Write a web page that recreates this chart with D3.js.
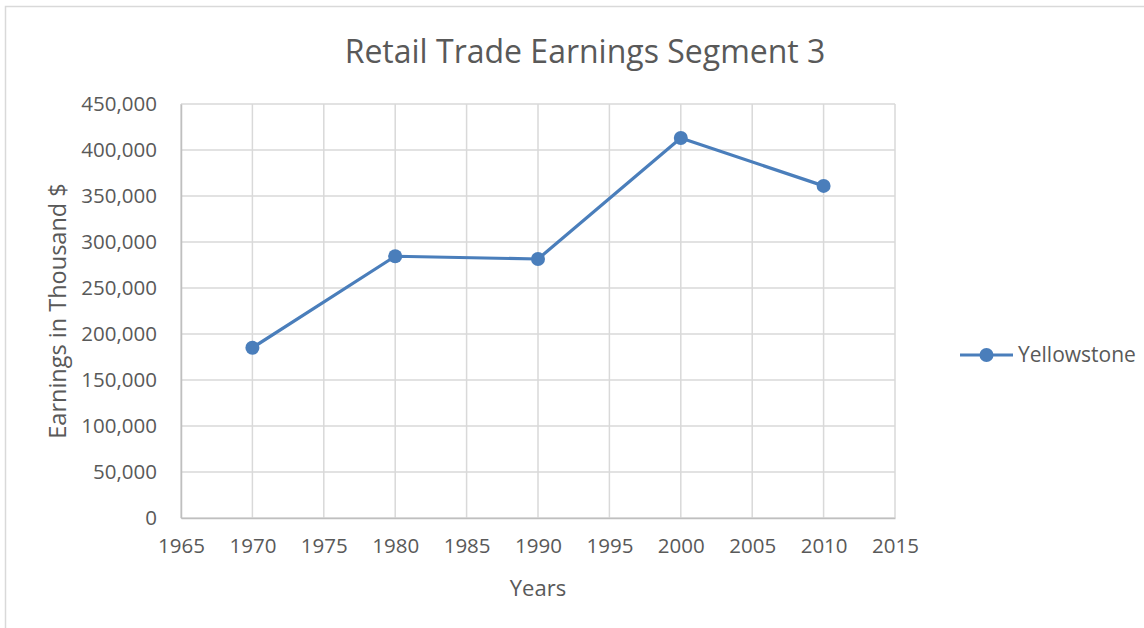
<!DOCTYPE html>
<html>
<head>
<meta charset="utf-8">
<script src="https://cdn.jsdelivr.net/npm/d3@7"></script>
<style>
  body { margin: 0; background: #fff; }
  svg { font-family: "Open Sans", sans-serif; }
  .tick text { fill: #595959; font-family: "Open Sans", sans-serif; }
</style>
</head>
<body>
<div id="chart"></div>
<script>
// data
var years = [1970, 1980, 1990, 2000, 2010];
var earnings = [185000, 284500, 281500, 413000, 361000];
var seriesName = "Yellowstone";
var xTicks = [1965, 1970, 1975, 1980, 1985, 1990, 1995, 2000, 2005, 2010, 2015];
var yTicks = [0, 50000, 100000, 150000, 200000, 250000, 300000, 350000, 400000, 450000];

var svgWidth = 1144;
var svgHeight = 628;

var margin = { top: 104, left: 181 };
var width = 895 - 181;
var height = 518 - 104;

var svg = d3.select("#chart")
  .append("svg")
  .attr("width", svgWidth)
  .attr("height", svgHeight);

// outer chart frame (partly off the page)
svg.append("rect")
  .attr("x", 5.5).attr("y", 6.5)
  .attr("width", 1200).attr("height", 700)
  .attr("fill", "none")
  .attr("stroke", "#d9d9d9")
  .attr("stroke-width", 1.5);

var chartGroup = svg.append("g")
  .attr("transform", `translate(${margin.left}, ${margin.top})`);

var xScale = d3.scaleLinear().domain([1965, 2015]).range([0, width]);
var yScale = d3.scaleLinear().domain([0, 450000]).range([height, 0]);

// gridlines
chartGroup.append("g")
  .selectAll("line")
  .data(yTicks)
  .enter()
  .append("line")
  .attr("x1", 0).attr("x2", width)
  .attr("y1", d => yScale(d)).attr("y2", d => yScale(d))
  .attr("stroke", "#d9d9d9")
  .attr("stroke-width", 1.5);

chartGroup.append("g")
  .selectAll("line")
  .data(xTicks)
  .enter()
  .append("line")
  .attr("x1", d => xScale(d)).attr("x2", d => xScale(d))
  .attr("y1", 0).attr("y2", height)
  .attr("stroke", "#d9d9d9")
  .attr("stroke-width", 1.5);

// axes
var bottomAxis = d3.axisBottom(xScale).tickValues(xTicks).tickFormat(d3.format("d")).tickSize(0).tickPadding(20);
var leftAxis = d3.axisLeft(yScale).tickValues(yTicks).tickFormat(d3.format(",")).tickSize(0).tickPadding(24);

var xAxisG = chartGroup.append("g")
  .attr("transform", `translate(0, ${height})`)
  .call(bottomAxis);
xAxisG.attr("font-family", "Open Sans").attr("font-size", 20.5);
xAxisG.select(".domain").attr("stroke", "#bfbfbf").attr("stroke-width", 1.5);

var yAxisG = chartGroup.append("g").call(leftAxis);
yAxisG.attr("font-family", "Open Sans").attr("font-size", 20.5);
yAxisG.select(".domain").attr("stroke", "#bfbfbf").attr("stroke-width", 1.5);

// line + markers
var line = d3.line()
  .x((d, i) => xScale(years[i]))
  .y(d => yScale(d));

chartGroup.append("path")
  .datum(earnings)
  .attr("d", line)
  .attr("fill", "none")
  .attr("stroke", "#4a7ebb")
  .attr("stroke-width", 3.2)
  .attr("stroke-linejoin", "round");

chartGroup.selectAll("circle")
  .data(earnings)
  .enter()
  .append("circle")
  .attr("cx", (d, i) => xScale(years[i]))
  .attr("cy", d => yScale(d))
  .attr("r", 7)
  .attr("fill", "#4a7ebb");

// title
svg.append("text")
  .attr("x", 585).attr("y", 63)
  .attr("text-anchor", "middle")
  .style("font-size", "32px")
  .style("fill", "#595959")
  .text("Retail Trade Earnings Segment 3");

// axis labels
svg.append("text")
  .attr("transform", `translate(66, ${margin.top + height / 2}) rotate(-90)`)
  .attr("text-anchor", "middle")
  .style("font-size", "23.5px")
  .style("fill", "#595959")
  .text("Earnings in Thousand $");

svg.append("text")
  .attr("x", 538).attr("y", 596)
  .attr("text-anchor", "middle")
  .style("font-size", "22px")
  .style("fill", "#595959")
  .text("Years");

// legend
var legend = svg.append("g").attr("transform", "translate(960, 355)");
legend.append("line")
  .attr("x1", 0).attr("x2", 53)
  .attr("stroke", "#4a7ebb").attr("stroke-width", 3.2);
legend.append("circle")
  .attr("cx", 26.5).attr("r", 7)
  .attr("fill", "#4a7ebb");
legend.append("text")
  .attr("x", 58).attr("dy", "0.35em")
  .style("font-size", "21px")
  .style("fill", "#595959")
  .text(seriesName);
</script>
</body>
</html>
